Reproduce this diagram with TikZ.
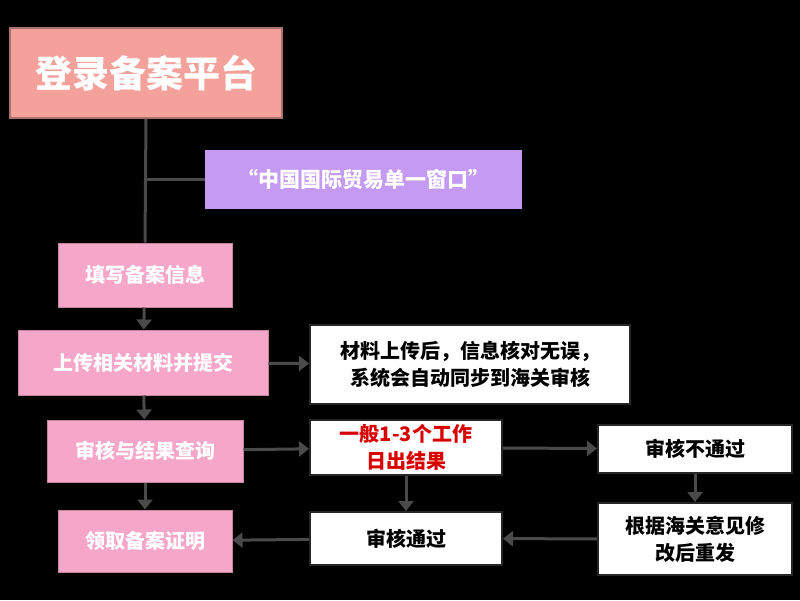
\documentclass[tikz,border=0pt]{standalone}
\usepackage{fontspec}
\setmainfont{Noto Sans CJK SC}
\usetikzlibrary{arrows.meta}
\definecolor{pinkf}{HTML}{F5A6C9}
\definecolor{salm}{HTML}{F4A19B}
\definecolor{purp}{HTML}{C49AF2}
\definecolor{arr}{HTML}{4A4A4A}
\begin{document}
\begin{tikzpicture}[x=1pt,y=-1pt,
  pk/.style={draw=pinkf!80!black,line width=1pt,fill=pinkf,text=white,font=\bfseries\fontsize{20}{24}\selectfont,inner sep=0pt},
  wb/.style={draw=black!85,line width=2pt,fill=white,text=black,font=\bfseries\fontsize{20}{27}\selectfont,inner sep=0pt,align=center},
  ar/.style={arr,line width=3pt,-{Triangle[length=10pt,width=15pt]}},
  ln/.style={arr,line width=3pt}]
\fill[black] (0,0) rectangle (800,600);
\useasboundingbox (0,0) rectangle (800,600);
\node[draw=salm!70!black,line width=1.5pt,fill=salm,text=white,font=\bfseries\fontsize{37}{40}\selectfont,minimum width=272pt,minimum height=90pt,inner sep=0pt] (t) at (146,73) {登录备案平台};
\node[fill=purp,text=white,font=\bfseries\fontsize{21}{24}\selectfont,minimum width=317pt,minimum height=59pt,inner sep=0pt] (p) at (363.5,179.5) {“中国国际贸易单一窗口”};
\node[pk,minimum width=174pt,minimum height=64pt] (a) at (145,275) {填写备案信息};
\node[pk,minimum width=250pt,minimum height=65pt] (b) at (143,362.5) {上传相关材料并提交};
\node[pk,minimum width=196pt,minimum height=62pt] (c) at (145,451) {审核与结果查询};
\node[pk,minimum width=174pt,minimum height=62pt] (d) at (145,541) {领取备案证明};
\node[wb,minimum width=320pt,minimum height=79pt] (m) at (470,364.5) {材料上传后，信息核对无误，\\系统会自动同步到海关审核};
\node[wb,text=red!85!black,minimum width=192pt,minimum height=55pt] (g) at (406,447.5) {一般1-3个工作\\日出结果};
\node[wb,minimum width=194pt,minimum height=48pt] (n) at (695,449) {审核不通过};
\node[wb,minimum width=194pt,minimum height=72pt] (r) at (695,539) {根据海关意见修\\改后重发};
\node[wb,minimum width=192pt,minimum height=53pt] (y) at (406,538.5) {审核通过};
\coordinate (j) at (t.south |- p.west);
\draw[ln] (t.south) -- (a.north);
\draw[ln] (j) -- (p.west);
\draw[ar] (a) -- (b);
\draw[ar] (b) -- (c);
\draw[ar] (c) -- (d);
\draw[ar] (b) -- (m);
\draw[ar] (c) -- (g);
\draw[ar] (g) -- (n);
\draw[ar] (n) -- (r);
\draw[ar] (g) -- (y);
\draw[ar] (r) -- (y);
\draw[ar] (y) -- (d);
\end{tikzpicture}
\end{document}
